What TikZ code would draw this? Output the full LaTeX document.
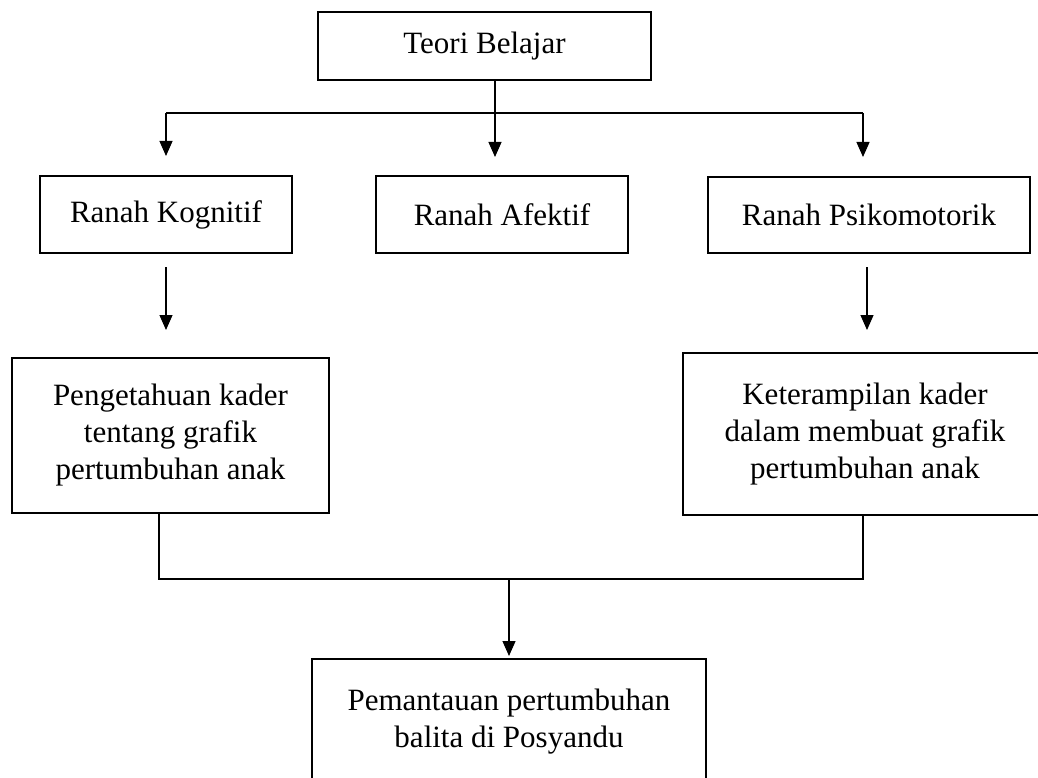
\documentclass[tikz,border=0pt]{standalone}
\usepackage{fontspec}
\setmainfont{Liberation Serif}
\usetikzlibrary{arrows.meta}

\begin{document}
\begin{tikzpicture}[x=1pt, y=-1pt]
	\tikzset{bx/.style={draw=black, line width=2pt, align=center, inner sep=0pt, font=\fontsize{31}{37}\selectfont}};
	\tikzset{ln/.style={line width=1.2pt}};
	\tikzset{ar/.style={ln, -{Triangle[width=13pt, length=15pt]}}};

	\clip (0,0) rectangle (1038,778);

	\node[bx, minimum width=333pt, minimum height=68pt] (teori) at (484.5, 46) {Teori Belajar};
	\node[bx, minimum width=252pt, minimum height=77pt] (kog) at (166, 214.5) {Ranah Kognitif};
	\node[bx, minimum width=252pt, minimum height=77pt] (afe) at (502, 214.5) {Ranah Afektif};
	\node[bx, minimum width=322pt, minimum height=76pt] (psi) at (869, 215) {Ranah Psikomotorik};
	\node[bx, minimum width=317pt, minimum height=155pt] (peng) at (170.5, 435.5) {Pengetahuan kader\\tentang grafik\\pertumbuhan anak};
	\node[bx, minimum width=364pt, minimum height=162pt] (ket) at (865, 434) {Keterampilan kader\\dalam membuat grafik\\pertumbuhan anak};
	\node[bx, minimum width=394pt, minimum height=126pt] (pem) at (509, 722) {Pemantauan pertumbuhan\\balita di Posyandu};

	\coordinate (split) at (495, 113);
	\coordinate (kogin) at (166, 156);
	\coordinate (afein) at (495, 157);
	\coordinate (psiin) at (863, 157);
	\coordinate (kogout) at (166, 267);
	\coordinate (pengin) at (166, 330);
	\coordinate (psiout) at (867, 267);
	\coordinate (ketin) at (867, 330);
	\coordinate (pengout) at (159, 579);
	\coordinate (ketout) at (863, 579);
	\coordinate (merge) at (509, 579);
	\coordinate (pemin) at (509, 656);

	\draw[ln] (teori.south -| split) to (split);
	\draw[ln] (kogin |- split) to (psiin |- split);
	\draw[ar] (kogin |- split) to (kogin);
	\draw[ar] (split) to (afein);
	\draw[ar] (psiin |- split) to (psiin);

	\draw[ar] (kogout) to (pengin);
	\draw[ar] (psiout) to (ketin);

	\draw[ln] (pengout |- peng.south) -- (pengout) -- (ketout) -- (ketout |- ket.south);
	\draw[ar] (merge) to (pemin);

\end{tikzpicture}
\end{document}
